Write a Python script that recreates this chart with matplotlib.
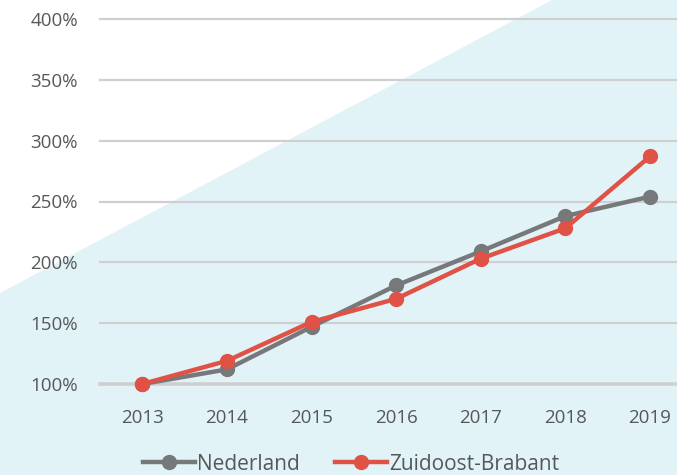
import matplotlib
matplotlib.use("Agg")
import matplotlib.pyplot as plt
from matplotlib.patches import Polygon

years = [2013, 2014, 2015, 2016, 2017, 2018, 2019]
nederland = [100, 112, 147, 181, 209, 238, 254]
zuidoost = [100, 119, 151, 170, 203, 228, 287]
yticks = [100, 150, 200, 250, 300, 350, 400]
ytick_labels = ["100%", "150%", "200%", "250%", "300%", "350%", "400%"]

plt.rcParams['font.family'] = ['Open Sans', 'DejaVu Sans']
text_color = "#555759"
gray = "#76787a"
red = "#e05246"

fig = plt.figure(figsize=(6.77, 4.75), dpi=100)
fig.patch.set_facecolor("white")

# background decoration axes
bgax = fig.add_axes([0, 0, 1, 1], zorder=-5)
bgax.set_xlim(0, 1)
bgax.set_ylim(0, 1)
bgax.axis('off')
bgax.add_patch(Polygon([(0, 1 - 293/475), (552/677, 1), (1, 1), (1, 0), (0, 0)],
                       closed=True, facecolor="#e2f3f8", edgecolor="none"))

ax = fig.add_axes([100/677, 1 - 384/475, 1 - 100/677, (384 - 19)/475], zorder=1)
ax.set_facecolor("none")
ax.set_xlim(2012.5, 2019.32)
ax.set_ylim(100, 400)
ax.set_yticks(yticks)
ax.set_yticklabels(ytick_labels)
ax.set_xticks(years)
ax.set_xticklabels([str(y) for y in years])
for s in ax.spines.values():
    s.set_visible(False)
ax.tick_params(length=0, colors=text_color, labelsize=13.5)
ax.tick_params(axis='y', pad=16)
ax.tick_params(axis='x', pad=18)
for y in yticks:
    ax.axhline(y, color="#cfcfcf", lw=1.6 if y != 100 else 2.6, zorder=1, clip_on=False)

ax.plot(years, nederland, color=gray, lw=3.2, marker='o', ms=10, label="Nederland",
        zorder=3, clip_on=False)
ax.plot(years, zuidoost, color=red, lw=3.2, marker='o', ms=10, label="Zuidoost-Brabant",
        zorder=4, clip_on=False)

leg = fig.legend(loc='center', bbox_to_anchor=(0.519, 1 - 464/475), ncol=2, frameon=False,
                 fontsize=15, handlelength=2.5, handletextpad=0.1, columnspacing=1.7,
                 labelcolor=text_color)

fig.savefig("out.png", dpi=100, facecolor=fig.get_facecolor())
